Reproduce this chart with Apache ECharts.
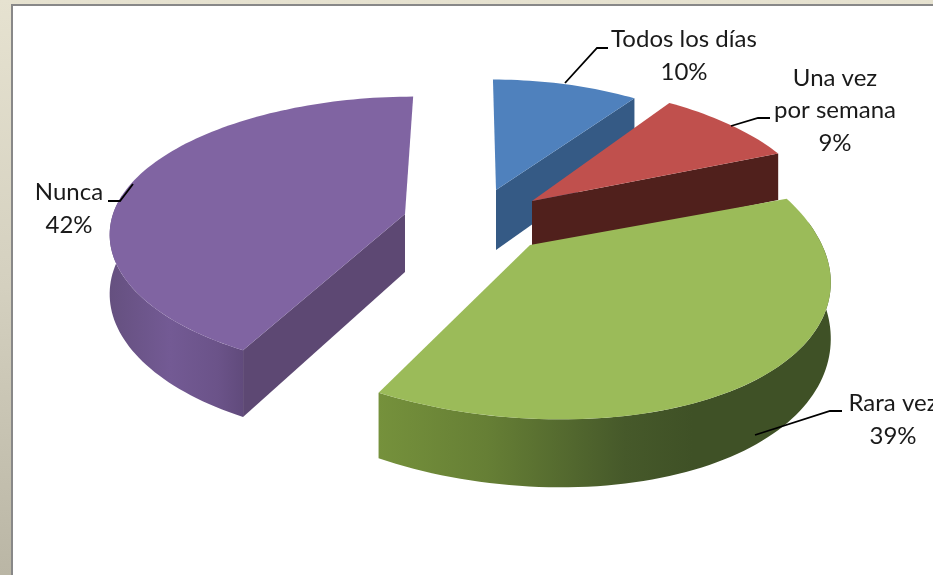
<!DOCTYPE html>
<html><head><meta charset="utf-8">
<style>html,body{margin:0;padding:0;background:#fff;overflow:hidden}#c{width:933px;height:575px}</style>
<script src="https://cdn.jsdelivr.net/npm/echarts@6/dist/echarts.min.js"></script>
</head><body><div id="c"></div>
<script>
const categories = ['Todos los días', 'Una vez\npor semana', 'Rara vez', 'Nunca'];
const values = [10, 9, 39, 42];

const top_colors = ['#4f81bd', '#c0504d', '#9bbb59', '#8064a2'];
const wall_colors = ['#355a85', '#50201c', '#3f5128', '#5d4873'];
const geometry = [
  {cx:496, cy:190, a:268, b:127, k:.15, leanN:3.5, leanP:0, d:60},
  {cx:532, cy:201, a:282, b:136, k:.15, leanN:18, leanP:0, d:49},
  {cx:530, cy:245, a:292, b:136, k:.22, leanN:-44, leanP:24, d:53},
  {cx:405, cy:214, a:292, b:135, k:.15, leanN:-9.4, leanP:0, d:58}
];
const wall_gradients = [null, null,
  {x:373, x2:830, stops:[[0,'#76923c'],[.25,'#667f35'],[.55,'#46592a'],[.7,'#3f5126'],[1,'#3f5126']], from:80, to:208.8},
  {x:108, x2:245, stops:[[0,'#65507f'],[.45,'#735a94'],[.8,'#6b5389'],[1,'#604a7b']], from:208.8, to:278}
];
const labels = [
  {x:684, y:56, line:[[565,83],[597,48],[608,48]]},
  {x:835, y:110.5, line:[[731,126],[758,118],[770,118]]},
  {x:893, y:420, line:[[755,435],[830,411],[842,411]]},
  {x:69, y:209, line:[[133,184],[120,201],[108,201]]}
];

const total = values.reduce((s, v) => s + v, 0);
const starts = [];
values.reduce((s, v, i) => (starts[i] = s, s + v), 0);

function project(g, deg, r) {
  const t = deg * Math.PI / 180;
  const X = Math.sin(t) * r, Y = -Math.cos(t) * r;
  const s = 1 / (1 - g.k * Y);
  const L = Y < 0 ? g.leanN : g.leanP;
  return {x: g.cx + s * (g.a * X + L * Y * Math.abs(Y)), y: g.cy + s * g.b * Y, s};
}
function arc(g, a0, a1) {
  const n = Math.max(2, Math.ceil(Math.abs(a1 - a0) / 1.5));
  const pts = [];
  for (let i = 0; i <= n; i++) pts.push(project(g, a0 + (a1 - a0) * i / n, 1));
  return pts;
}
const down = (g, p) => [p.x, p.y + g.d * p.s];
const up = p => [p.x, p.y];

function renderItem(params, api) {
  const i = params.dataIndex;
  const g = geometry[i];
  const a0 = api.value(1) / total * 360;
  const a1 = api.value(2) / total * 360;
  const apex = {x: g.cx, y: g.cy, s: 1};
  const rim = arc(g, a0, a1);
  const children = [];
  const wg = wall_gradients[i];
  if (wg) {
    const w = arc(g, wg.from, wg.to);
    const wallPts = w.map(up).concat(w.slice().reverse().map(p => down(g, p)));
    children.push({type:'polygon', shape:{points:wallPts}, silent:true, style:{
      fill:{type:'linear', x:wg.x, y:0, x2:wg.x2, y2:0, global:true,
            colorStops:wg.stops.map(([offset, color]) => ({offset, color}))}}});
  }
  if (i !== 2) {
    const end = rim[i === 3 ? 0 : rim.length - 1];
    children.push({type:'polygon', shape:{points:[up(apex), up(end), down(g, end), down(g, apex)]},
      silent:true, style:{fill:wall_colors[i]}});
  }
  children.push({type:'polygon', shape:{points:[up(apex)].concat(rim.map(up))}, silent:true,
    style:{fill:top_colors[i]}});
  const pct = Math.round(api.value(3) / total * 100) + '%';
  const lab = labels[i];
  children.push({type:'polyline', shape:{points:lab.line}, silent:true,
    style:{stroke:'#000', lineWidth:1.8, fill:null}});
  children.push({type:'text', silent:true, x:lab.x, y:lab.y, style:{
    text:categories[i] + '\n' + pct, font:'24px Lato', fill:'#1a1a1a',
    align:'center', verticalAlign:'middle', lineHeight:32.5}});
  return {type:'group', children};
}

const seriesData = values.map((v, i) => [i, starts[i], starts[i] + v, v]);

const chart = echarts.init(document.getElementById('c'), null, {renderer:'canvas'});
chart.setOption({
  animation:false,
  backgroundColor:'#fff',
  graphic:[
    {type:'rect', z:-10, shape:{x:0,y:0,width:933,height:575},
     style:{fill:{type:'linear',x:0,y:0,x2:0,y2:1,colorStops:[{offset:0,color:'#e6e2d0'},{offset:.5,color:'#d4d0bf'},{offset:1,color:'#bab6a5'}]}}},
    {type:'rect', z:-9, shape:{x:11,y:4,width:922,height:571}, style:{fill:'#888888'}},
    {type:'rect', z:-8, shape:{x:13,y:6,width:920,height:569}, style:{fill:'#ffffff'}}
  ],
  series:[{type:'custom', coordinateSystem:'none', renderItem, data:seriesData, clip:false, silent:true, animation:false}]
});
</script></body></html>
